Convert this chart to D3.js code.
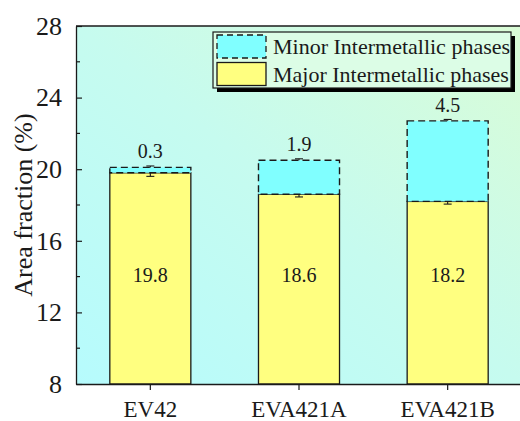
<!DOCTYPE html>
<html>
<head>
<meta charset="utf-8">
<script src="https://cdn.jsdelivr.net/npm/d3@7/dist/d3.min.js"></script>
<style>
  html, body { margin: 0; padding: 0; background: #fff; }
  svg, svg text { font-family: "Liberation Serif", "Times New Roman", "DejaVu Serif", serif; }
  svg { display: block; }
</style>
</head>
<body>
<svg id="chart" width="520" height="421"></svg>
<script>
// Alloy samples and measured intermetallic area fractions (%)
const categories = ["EV42", "EVA421A", "EVA421B"];
const majorValues = [19.8, 18.6, 18.2];
const minorValues = [0.3, 1.9, 4.5];
const majorErrors = [0.2, 0.15, 0.15];
const minorErrors = [0.08, 0.08, 0.08];
const yTicks = [8, 12, 16, 20, 24, 28];
const yMinorTicks = [10, 14, 18, 22, 26];
const seriesNames = ["Minor Intermetallic phases", "Major Intermetallic phases"];

const svg = d3.select("#chart");
const plot = { left: 76, right: 522, top: 26, bottom: 384 };

const x = d3.scaleBand().domain(categories).range([plot.left, plot.right]);
const y = d3.scaleLinear().domain([8, 28]).range([plot.bottom, plot.top]);
const barW = x.bandwidth() * 0.545;
const cx = c => x(c) + x.bandwidth() / 2;

// plot background gradient
const defs = svg.append("defs");
const grad = defs.append("linearGradient").attr("id", "bg")
  .attr("x1", "0").attr("y1", "1").attr("x2", "1").attr("y2", "0");
grad.append("stop").attr("offset", "0").attr("stop-color", "#b6fbfd");
grad.append("stop").attr("offset", "0.5").attr("stop-color", "#c6fbef");
grad.append("stop").attr("offset", "1").attr("stop-color", "#dafcd6");

svg.append("rect")
  .attr("x", plot.left).attr("y", plot.top)
  .attr("width", plot.right - plot.left).attr("height", plot.bottom - plot.top)
  .attr("fill", "url(#bg)");

const ink = "#1a1a1a";
const data = categories.map((c, i) => ({
  c, major: majorValues[i], minor: minorValues[i],
  majorErr: majorErrors[i], minorErr: minorErrors[i]
}));

// major phase bars
svg.append("g").selectAll("rect").data(data).join("rect")
  .attr("x", d => cx(d.c) - barW / 2)
  .attr("y", d => y(d.major))
  .attr("width", barW)
  .attr("height", d => y(8) - y(d.major))
  .attr("fill", "#ffff80")
  .attr("stroke", ink).attr("stroke-width", 1.3);

// error bars
function errorBar(g, xc, v, e, dir) {
  const capW = 8;
  const y0 = y(v), y1 = y(v + dir * e);
  g.append("line").attr("x1", xc).attr("x2", xc).attr("y1", y0).attr("y2", y1)
    .attr("stroke", ink).attr("stroke-width", 1.1);
  g.append("line").attr("x1", xc - capW / 2).attr("x2", xc + capW / 2).attr("y1", y1).attr("y2", y1)
    .attr("stroke", ink).attr("stroke-width", 1.1);
}
const errMajor = svg.append("g");
data.forEach(d => errorBar(errMajor, cx(d.c), d.major, d.majorErr, -1));

// minor phase bars stacked on top
svg.append("g").selectAll("rect").data(data).join("rect")
  .attr("x", d => cx(d.c) - barW / 2)
  .attr("y", d => y(d.major + d.minor))
  .attr("width", barW)
  .attr("height", d => y(d.major) - y(d.major + d.minor))
  .attr("fill", "#80ffff")
  .attr("stroke", ink).attr("stroke-width", 1.4)
  .attr("stroke-dasharray", "7,4");

const errMinor = svg.append("g");
data.forEach(d => errorBar(errMinor, cx(d.c), d.major + d.minor, d.minorErr, 1));

// value labels
const labelLevel = 13.7;
svg.append("g").selectAll("text").data(data).join("text")
  .attr("x", d => cx(d.c)).attr("y", y(labelLevel))
  .attr("text-anchor", "middle").attr("font-size", 20).attr("fill", ink)
  .text(d => d.major.toFixed(1));
svg.append("g").selectAll("text").data(data).join("text")
  .attr("x", d => cx(d.c)).attr("y", d => y(d.major + d.minor) - 9)
  .attr("text-anchor", "middle").attr("font-size", 20).attr("fill", ink)
  .text(d => d.minor.toFixed(1));

// axes
const yAxis = svg.append("g").attr("transform", `translate(${plot.left},0)`)
  .call(d3.axisLeft(y).tickValues(yTicks).tickSizeInner(-6).tickSizeOuter(0).tickPadding(14))
  .attr("font-family", null).attr("font-size", null);
yAxis.append("g").selectAll("line").data(yMinorTicks).join("line")
  .attr("x1", 0).attr("x2", 4).attr("y1", d => y(d)).attr("y2", d => y(d));
yAxis.selectAll("line").attr("stroke", ink).attr("stroke-width", 1.2);
yAxis.select(".domain").attr("stroke", ink).attr("stroke-width", 1.3);
yAxis.selectAll("text").attr("font-size", 26).attr("fill", ink);

const xAxis = svg.append("g").attr("transform", `translate(0,${plot.bottom})`)
  .call(d3.axisBottom(x).tickSizeInner(6).tickSizeOuter(0).tickPadding(11))
  .attr("font-family", null).attr("font-size", null);
xAxis.selectAll("line").attr("stroke", ink).attr("stroke-width", 1.2);
xAxis.select(".domain").attr("stroke", ink).attr("stroke-width", 1.3);
xAxis.selectAll("text").attr("font-size", 23).attr("fill", ink);

// top frame line
svg.append("line").attr("x1", plot.left).attr("x2", plot.right)
  .attr("y1", plot.top).attr("y2", plot.top)
  .attr("stroke", ink).attr("stroke-width", 1.3);

// y-axis title
svg.append("text")
  .attr("transform", `translate(32,${(plot.top + plot.bottom) / 2}) rotate(-90)`)
  .attr("text-anchor", "middle").attr("font-size", 26).attr("fill", ink)
  .text("Area fraction (%)");

// legend with drop shadow
const lg = svg.append("g").attr("transform", "translate(213,32)");
const lgW = 298, lgH = 56;
lg.append("rect").attr("x", 4).attr("y", 4).attr("width", lgW).attr("height", lgH).attr("fill", "#000");
lg.append("rect").attr("width", lgW).attr("height", lgH)
  .attr("fill", "#dcfde6").attr("stroke", ink).attr("stroke-width", 1.2);
const swatches = [
  { fill: "#80ffff", dash: "6,4" },
  { fill: "#ffff80", dash: null }
];
seriesNames.forEach((name, i) => {
  const sy = 3 + i * 27.5;
  lg.append("rect").attr("x", 4).attr("y", sy).attr("width", 49).attr("height", 23)
    .attr("fill", swatches[i].fill).attr("stroke", ink).attr("stroke-width", 1.3)
    .attr("stroke-dasharray", swatches[i].dash);
  lg.append("text").attr("x", 60).attr("y", sy + 19)
    .attr("font-size", 22).attr("fill", ink).text(name);
});
</script>
</body>
</html>
